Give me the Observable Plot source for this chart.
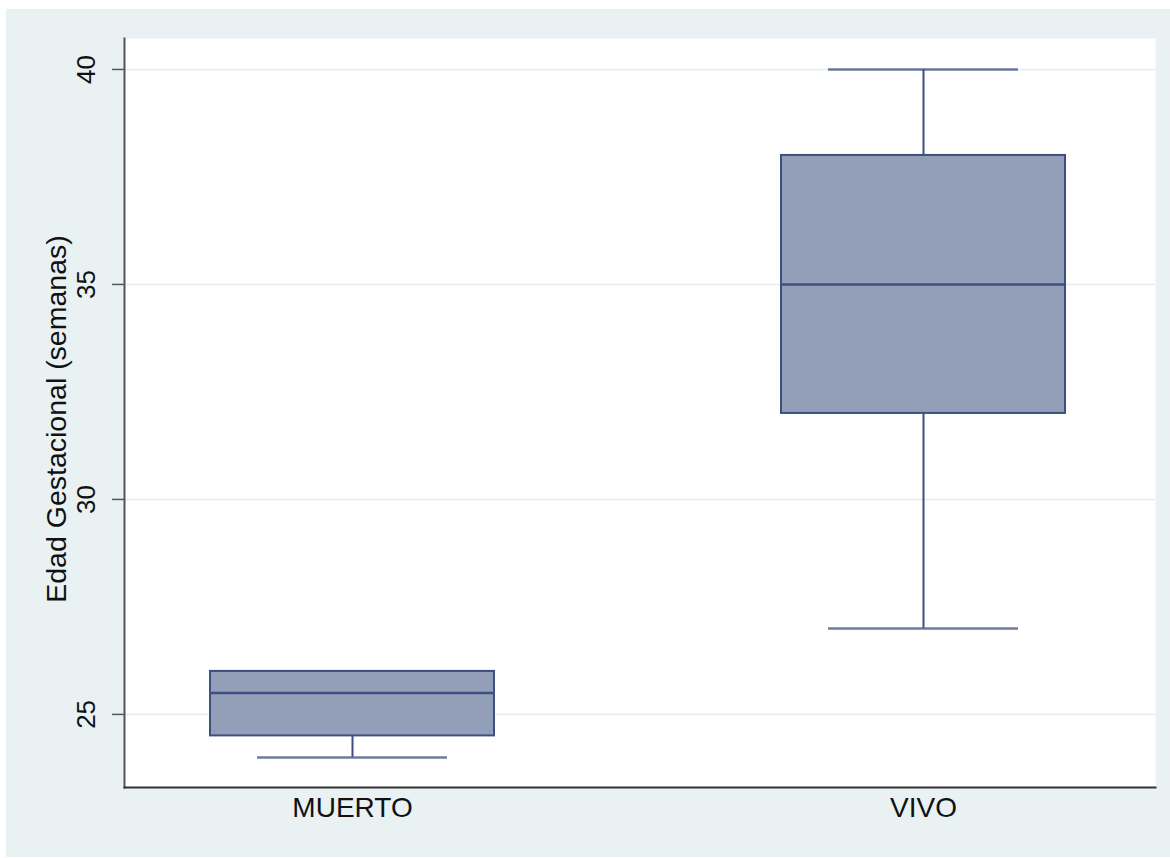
<!DOCTYPE html>
<html>
<head>
<meta charset="utf-8">
<script src="https://cdn.jsdelivr.net/npm/d3@7"></script>
<script src="https://cdn.jsdelivr.net/npm/@observablehq/plot@0.6"></script>
<style>
  html, body { margin: 0; padding: 0; background: #ffffff; }
  #chart { padding-left: 6px; padding-top: 9px; }
  #chart svg { display: block; }
</style>
</head>
<body>
<div id="chart"></div>
<script>
const groups = ["MUERTO", "VIVO"];
const lowerAdj = [24, 27];
const q1 = [24.5, 32];
const median = [25.5, 35];
const q3 = [26, 38];
const upperAdj = [26, 40];
const yTicks = [25, 30, 35, 40];
const yTitle = "Edad Gestacional (semanas)";

const rows = groups.map((g, i) => ({
  group: g, lo: lowerAdj[i], q1: q1[i], med: median[i], q3: q3[i], hi: upperAdj[i]
}));

const boxFill = "#939fb8";
const boxStroke = "#3d4f7f";
const font = "'Liberation Sans', Arial, Helvetica, sans-serif";

const chart = Plot.plot({
  width: 1164,
  height: 848,
  marginLeft: 118,
  marginRight: 15,
  marginTop: 29,
  marginBottom: 70,
  style: { background: "#e9f1f3", fontFamily: font },
  x: { type: "band", domain: groups, paddingInner: 0.5026, paddingOuter: 0.1541, align: 0.489, axis: null },
  y: { domain: [23.3, 40.72], axis: null },
  marks: [
    Plot.frame({ fill: "white", stroke: "none" }),
    Plot.gridY(yTicks, { stroke: "#e3edf0", strokeOpacity: 1, strokeWidth: 1.5 }),
    Plot.axisY({ ticks: yTicks, tickSize: 12, tickFormat: () => "", label: null, stroke: "#555", strokeWidth: 1.5 }),
    Plot.text(yTicks, { y: d => d, text: d => String(d), frameAnchor: "left", textAnchor: "middle", dx: -38, rotate: -90, fontSize: 26, fill: "#111" }),
    Plot.text([yTitle], { text: d => d, frameAnchor: "left", textAnchor: "middle", dx: -68, dy: 6, rotate: -90, fontSize: 28.5, fill: "#111" }),
    Plot.text(groups, { x: d => d, text: d => d, frameAnchor: "bottom", textAnchor: "middle", dy: 29, fontSize: 28, fill: "#111" }),
    Plot.ruleX(rows, { x: "group", y1: "lo", y2: "q1", stroke: boxStroke, strokeWidth: 2 }),
    Plot.ruleX(rows, { x: "group", y1: "q3", y2: "hi", stroke: boxStroke, strokeWidth: 2 }),
    Plot.tickY(rows, { x: "group", y: "lo", stroke: boxStroke, strokeWidth: 2.5, strokeOpacity: 0.75, insetLeft: 47, insetRight: 47 }),
    Plot.tickY(rows, { x: "group", y: "hi", stroke: boxStroke, strokeWidth: 2.5, strokeOpacity: 0.75, insetLeft: 47, insetRight: 47 }),
    Plot.rect(rows, { x: "group", y1: "q1", y2: "q3", fill: boxFill, stroke: boxStroke, strokeWidth: 2 }),
    Plot.tickY(rows, { x: "group", y: "med", stroke: boxStroke, strokeWidth: 2.5 }),
    Plot.frame({ anchor: "left", stroke: "#555", strokeWidth: 2 }),
    Plot.frame({ anchor: "bottom", stroke: "#333", strokeWidth: 2 })
  ]
});

document.getElementById("chart").appendChild(chart);
</script>
</body>
</html>
